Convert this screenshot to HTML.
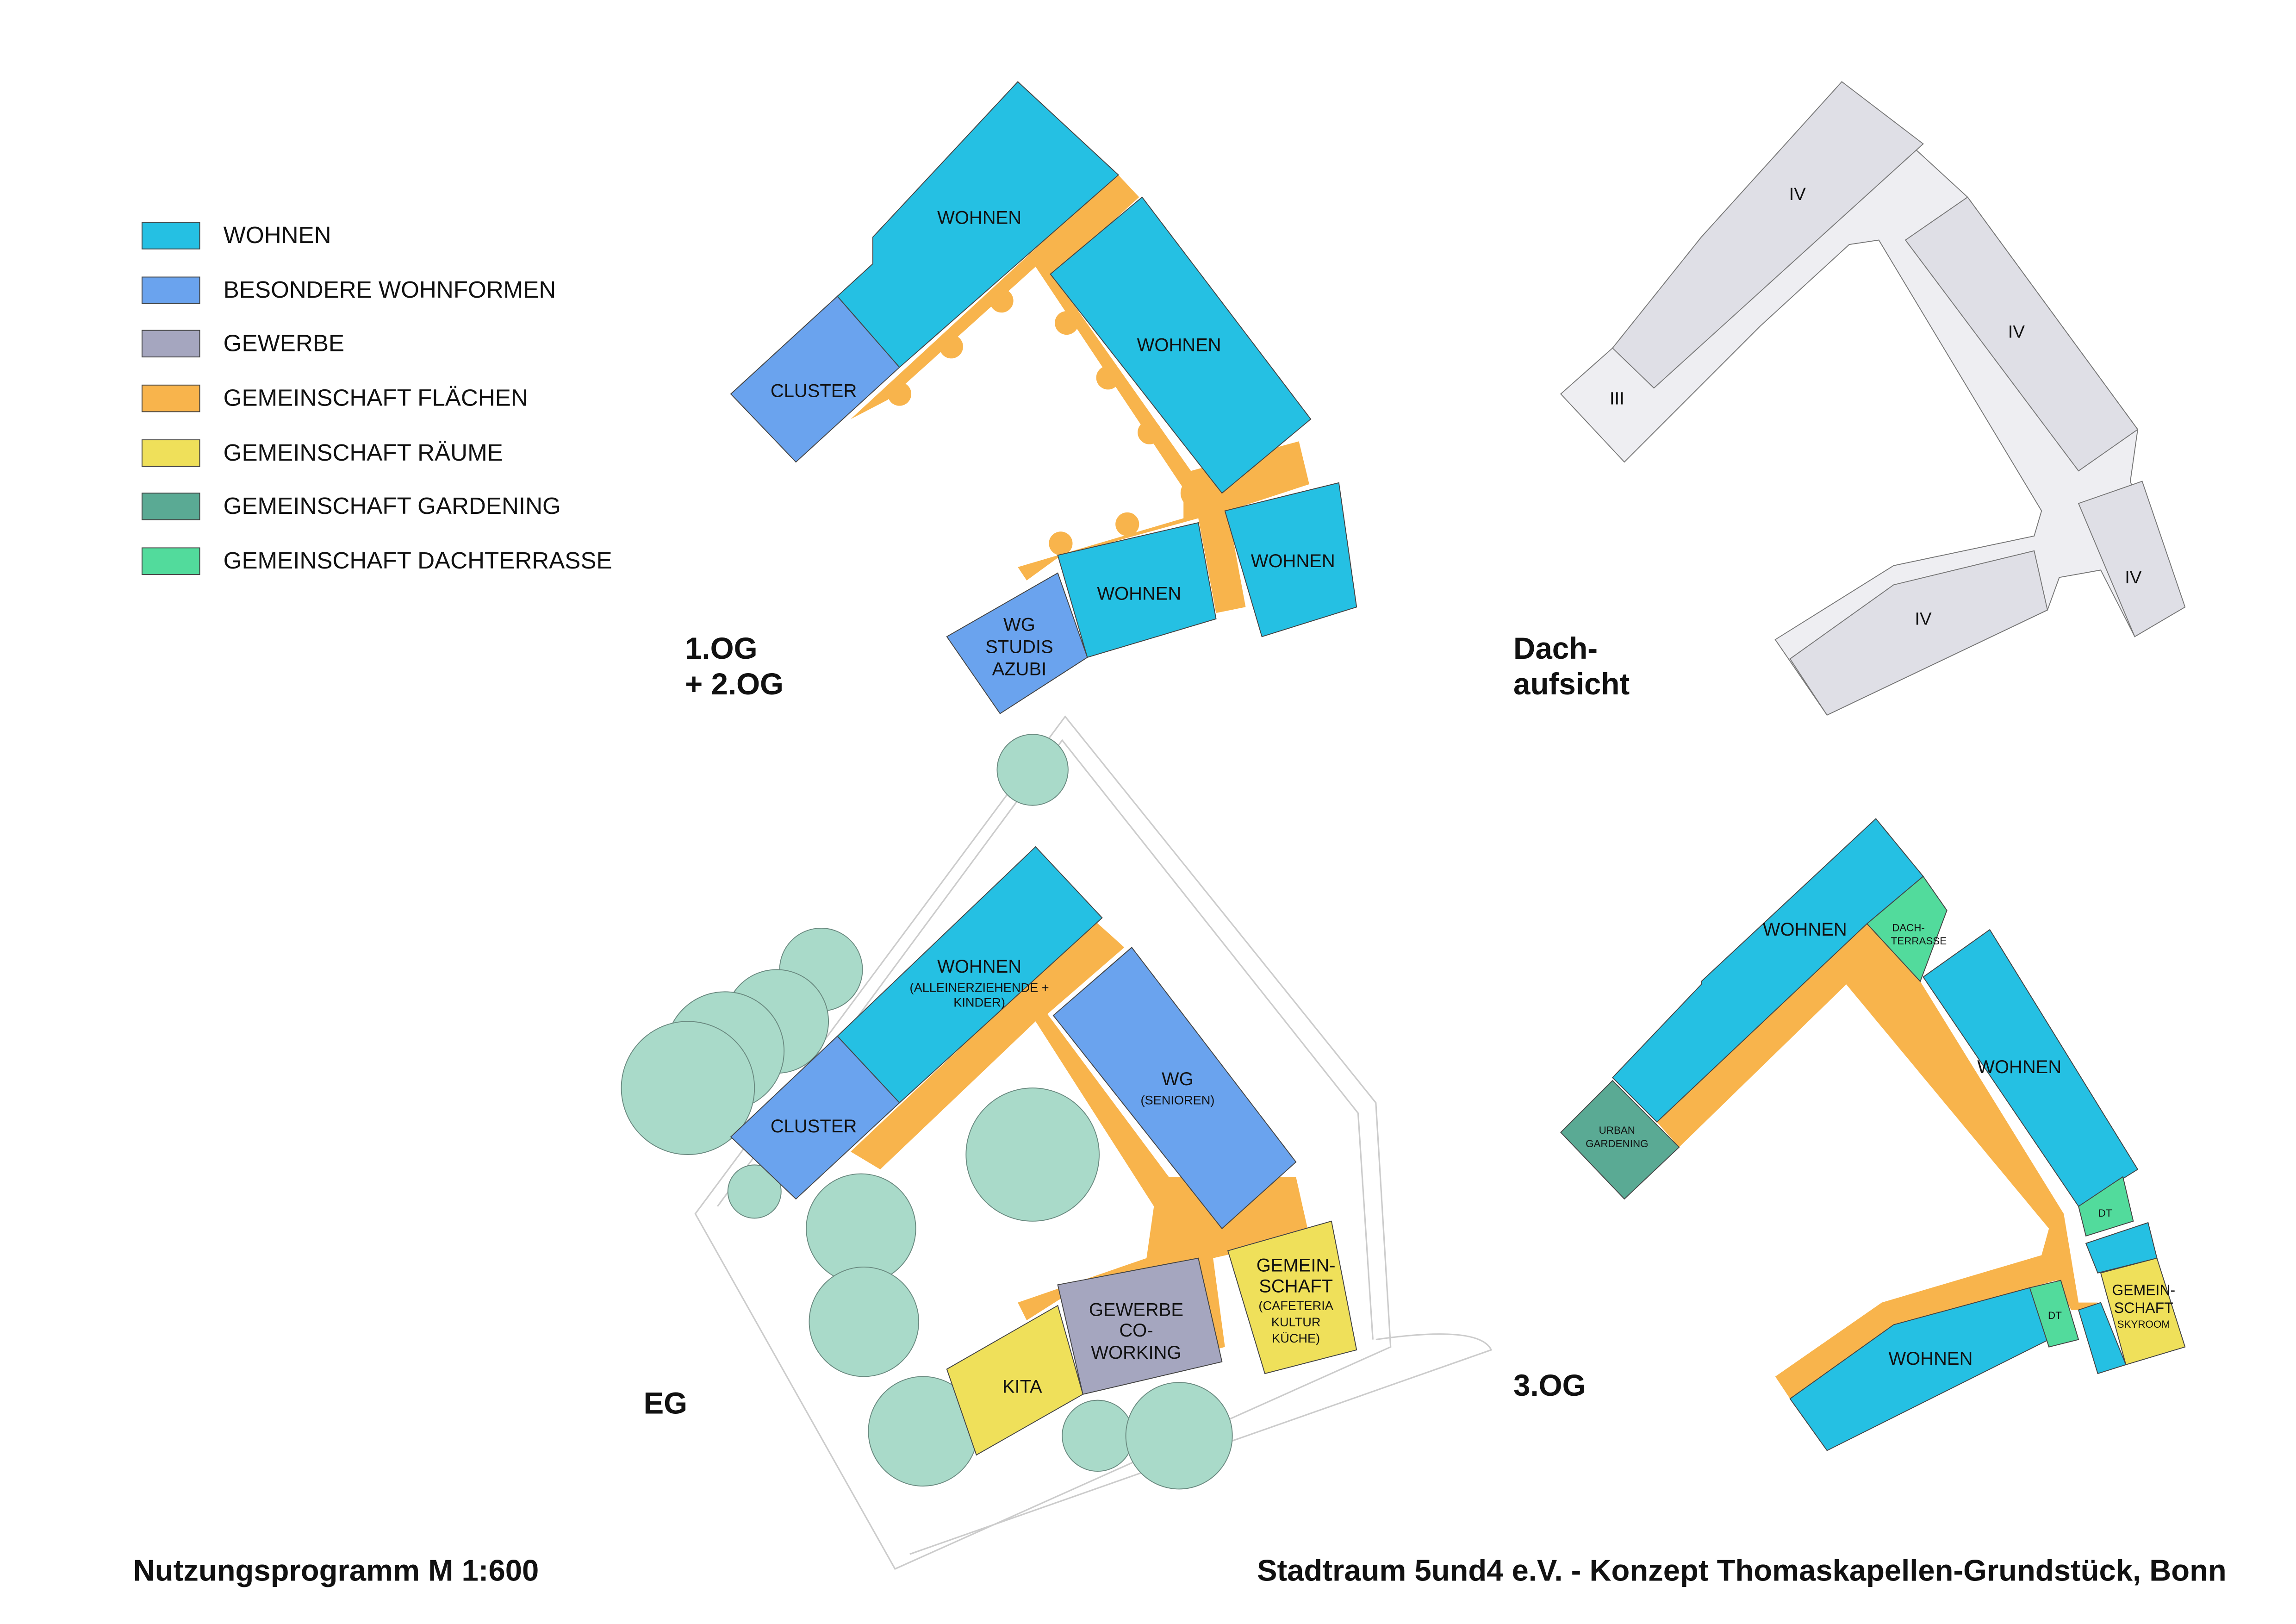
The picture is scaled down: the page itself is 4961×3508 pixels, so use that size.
<!DOCTYPE html>
<html><head><meta charset="utf-8"><style>
html,body{margin:0;padding:0;background:#fff;}
svg{display:block;}
text{font-family:"Liberation Sans",Arial,sans-serif;fill:#111;}
</style></head><body>
<svg width="4961" height="3508" viewBox="0 0 1552 1097" xmlns="http://www.w3.org/2000/svg">
<g stroke="#444" stroke-width="0.6">
<rect x="96" y="150" width="39" height="18" fill="#25c0e3"/>
<rect x="96" y="187" width="39" height="18" fill="#6aa3ee"/>
<rect x="96" y="223" width="39" height="18" fill="#a5a6bf"/>
<rect x="96" y="260" width="39" height="18" fill="#f8b44c"/>
<rect x="96" y="297" width="39" height="18" fill="#efe05a"/>
<rect x="96" y="333" width="39" height="18" fill="#5aaa94"/>
<rect x="96" y="370" width="39" height="18" fill="#52db9c"/>
</g>
<g font-size="16">
<text x="151" y="164">WOHNEN</text>
<text x="151" y="201">BESONDERE WOHNFORMEN</text>
<text x="151" y="237">GEWERBE</text>
<text x="151" y="274">GEMEINSCHAFT FLÄCHEN</text>
<text x="151" y="311">GEMEINSCHAFT RÄUME</text>
<text x="151" y="347">GEMEINSCHAFT GARDENING</text>
<text x="151" y="384">GEMEINSCHAFT DACHTERRASSE</text>
</g>

<g stroke="#444" stroke-width="0.6">
<polygon fill="#f8b44c" stroke="none" points="575,283 755,117 770,133 712,186 805,318 878,298 885,327 830,345 842,410 822,414 810,350 716,376 694,392 688,383 800,350 800,330 700,180 600,270"/>
<g fill="#f8b44c" stroke="none">
<circle cx="608" cy="266" r="8"/><circle cx="643" cy="234" r="8"/><circle cx="677" cy="203" r="8"/>
<circle cx="721" cy="218" r="8"/><circle cx="749" cy="255" r="8"/><circle cx="777" cy="292" r="8"/>
<circle cx="717" cy="367" r="8"/><circle cx="762" cy="354" r="8"/><circle cx="808" cy="333" r="10"/>
</g>
<polygon fill="#25c0e3" points="566,200 590,178 590,160 688,55 756,118 608,248"/>
<polygon fill="#6aa3ee" points="494,266 566,200 608,248 538,312"/>
<polygon fill="#25c0e3" points="710,185 772,133 886,283 826,333"/>
<polygon fill="#25c0e3" points="828,345 905,326 917,410 853,430"/>
<polygon fill="#25c0e3" points="715,375 810,353 822,418 735,444"/>
<polygon fill="#6aa3ee" points="640,430 715,387 735,444 676,482"/>
</g>
<g font-size="12.5" text-anchor="middle">
<text x="662" y="151">WOHNEN</text>
<text x="797" y="237">WOHNEN</text>
<text x="550" y="268">CLUSTER</text>
<text x="874" y="383">WOHNEN</text>
<text x="770" y="405">WOHNEN</text>
<text x="689" y="426">WG</text><text x="689" y="441">STUDIS</text><text x="689" y="456">AZUBI</text>
</g>
<text x="463" y="445" font-size="20.5" font-weight="bold">1.OG</text>
<text x="463" y="469" font-size="20.5" font-weight="bold">+ 2.OG</text>

<g stroke="#777" stroke-width="0.6">
<polygon fill="#eeeef2" points="1055,266 1090,235 1150,162 1245,55 1330,133 1445,290 1440,325 1470,410 1443,430 1420,385 1392,390 1384,412 1235,483 1200,432 1280,382 1375,362 1380,345 1270,162 1250,165 1190,220 1118,292 1098,312"/>
<polygon fill="#dfdfe6" points="1090,235 1150,160 1245,55 1300,97 1118,262"/>
<polygon fill="#dfdfe6" points="1288,162 1330,133 1445,290 1405,318"/>
<polygon fill="#dfdfe6" points="1210,445 1280,395 1375,372 1384,412 1235,483"/>
<polygon fill="#dfdfe6" points="1405,340 1448,325 1477,410 1443,430"/>
</g>
<g font-size="12" text-anchor="middle">
<text x="1215" y="135">IV</text><text x="1363" y="228">IV</text><text x="1093" y="273">III</text>
<text x="1300" y="422">IV</text><text x="1442" y="394">IV</text>
</g>
<text x="1023" y="445" font-size="20.5" font-weight="bold">Dach-</text>
<text x="1023" y="469" font-size="20.5" font-weight="bold">aufsicht</text>

<g fill="none" stroke="#ccc" stroke-width="1">
<polygon points="470,820 720,484 930,745 940,910 605,1060"/>
<polyline points="485,815 718,500 918,752 928,905"/>
<path d="M930,905 Q1000,895 1008,912 L615,1050"/>
</g>
<g fill="#a9dac9" stroke="#6a8a80" stroke-width="0.6">
<circle cx="698" cy="520" r="24"/>
<circle cx="555" cy="655" r="28"/><circle cx="525" cy="690" r="35"/><circle cx="490" cy="710" r="40"/><circle cx="465" cy="735" r="45"/>
<circle cx="698" cy="780" r="45"/><circle cx="582" cy="830" r="37"/><circle cx="584" cy="893" r="37"/>
<circle cx="510" cy="805" r="18"/><circle cx="624" cy="967" r="37"/>
<circle cx="742" cy="970" r="24"/><circle cx="797" cy="970" r="36"/>
</g>
<g stroke="#444" stroke-width="0.6">
<polygon fill="#f8b44c" stroke="none" points="575,778 740,622 760,640 708,685 790,795 876,795 885,835 820,850 828,910 810,915 798,855 716,878 694,892 688,880 775,850 780,815 700,690 595,790"/>
<polygon fill="#25c0e3" points="566,700 700,572 745,620 608,745"/>
<polygon fill="#6aa3ee" points="494,768 566,700 608,745 538,810"/>
<polygon fill="#6aa3ee" points="712,686 765,640 876,785 826,830"/>
<polygon fill="#efe05a" points="830,845 900,825 917,912 855,928"/>
<polygon fill="#a5a6bf" points="715,868 810,850 826,920 732,942"/>
<polygon fill="#efe05a" points="640,925 715,882 732,942 660,983"/>
</g>
<g text-anchor="middle">
<text x="662" y="657" font-size="12.5">WOHNEN</text>
<text x="662" y="670" font-size="8.5">(ALLEINERZIEHENDE +</text>
<text x="662" y="680" font-size="8.5">KINDER)</text>
<text x="796" y="733" font-size="12.5">WG</text>
<text x="796" y="746" font-size="8.5">(SENIOREN)</text>
<text x="550" y="765" font-size="12.5">CLUSTER</text>
<text x="876" y="859" font-size="12.5">GEMEIN-</text>
<text x="876" y="873" font-size="12.5">SCHAFT</text>
<text x="876" y="885" font-size="8.5">(CAFETERIA</text>
<text x="876" y="896" font-size="8.5">KULTUR</text>
<text x="876" y="907" font-size="8.5">KÜCHE)</text>
<text x="768" y="889" font-size="12.5">GEWERBE</text>
<text x="768" y="903" font-size="12.5">CO-</text>
<text x="768" y="918" font-size="12.5">WORKING</text>
<text x="691" y="941" font-size="12.5">KITA</text>
</g>
<text x="435" y="955" font-size="20.5" font-weight="bold">EG</text>

<g stroke="#444" stroke-width="0.6">
<polygon fill="#f8b44c" stroke="none" points="1120,758 1262,624 1298,663 1395,820 1405,880 1418,880 1410,885 1400,885 1390,865 1280,895 1230,935 1210,945 1200,930 1272,880 1380,848 1385,830 1248,665 1135,775"/>
<polygon fill="#25c0e3" points="1090,728 1150,665 1150,663 1268,553 1300,592 1262,624 1120,758"/>
<polygon fill="#52db9c" points="1262,624 1300,592 1316,615 1298,663"/>
<polygon fill="#5aaa94" points="1055,765 1090,730 1135,775 1098,810"/>
<polygon fill="#25c0e3" points="1300,660 1345,628 1445,790 1405,815"/>
<polygon fill="#52db9c" points="1405,815 1435,795 1442,825 1410,835"/>
<polygon fill="#25c0e3" points="1410,840 1452,826 1458,850 1418,860"/>
<polygon fill="#efe05a" points="1420,860 1458,850 1477,910 1437,922"/>
<polygon fill="#25c0e3" points="1405,885 1420,880 1437,922 1418,928"/>
<polygon fill="#25c0e3" points="1210,945 1280,895 1372,870 1385,905 1235,980"/>
<polygon fill="#52db9c" points="1372,870 1393,865 1405,905 1385,910"/>
</g>
<g text-anchor="middle">
<text x="1220" y="632" font-size="12.5">WOHNEN</text>
<text x="1290" y="629" font-size="7">DACH-</text>
<text x="1297" y="638" font-size="7">TERRASSE</text>
<text x="1365" y="725" font-size="12.5">WOHNEN</text>
<text x="1093" y="766" font-size="7">URBAN</text>
<text x="1093" y="775" font-size="7">GARDENING</text>
<text x="1423" y="822" font-size="7">DT</text>
<text x="1449" y="875" font-size="10">GEMEIN-</text>
<text x="1449" y="887" font-size="10">SCHAFT</text>
<text x="1449" y="897" font-size="7">SKYROOM</text>
<text x="1389" y="891" font-size="7">DT</text>
<text x="1305" y="922" font-size="12.5">WOHNEN</text>
</g>
<text x="1023" y="943" font-size="20.5" font-weight="bold">3.OG</text>

<text x="90" y="1068" font-size="20.4" font-weight="bold">Nutzungsprogramm M 1:600</text>
<text x="1505" y="1068" font-size="20.4" font-weight="bold" text-anchor="end">Stadtraum 5und4 e.V. - Konzept Thomaskapellen-Grundstück, Bonn</text>
</svg>
</body></html>
